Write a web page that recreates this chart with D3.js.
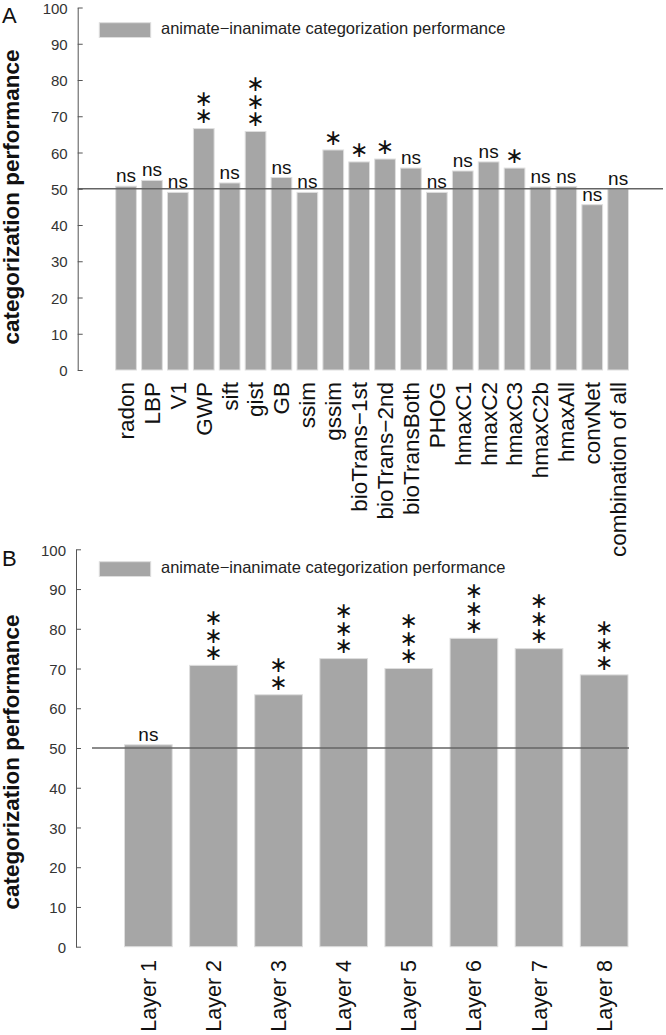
<!DOCTYPE html>
<html>
<head>
<meta charset="utf-8">
<script src="https://cdn.jsdelivr.net/npm/d3@7"></script>
<style>
  body { margin: 0; background: #fff; }
  svg { display: block; font-family: "Liberation Sans", Arial, sans-serif; }
</style>
</head>
<body>
<div id="chart"></div>
<script>
const width = 666;
const height = 1035;

// panel A: low-level feature models
const featureNames = ["radon", "LBP", "V1", "GWP", "sift", "gist", "GB", "ssim", "gssim",
  "bioTrans\u22121st", "bioTrans\u22122nd", "bioTransBoth", "PHOG", "hmaxC1", "hmaxC2",
  "hmaxC3", "hmaxC2b", "hmaxAll", "convNet", "combination of all"];
const featureScores = [50.7, 52.3, 49.0, 66.6, 51.6, 65.8, 53.1, 49.0, 60.7, 57.4,
  58.2, 55.7, 49.0, 54.9, 57.4, 55.7, 50.5, 50.6, 45.6, 50.0];
const featureSig = ["ns", "ns", "ns", "**", "ns", "***", "ns", "ns", "*", "*",
  "*", "ns", "ns", "ns", "ns", "*", "ns", "ns", "ns", "ns"];

// panel B: convNet layers
const layerNames = ["Layer 1", "Layer 2", "Layer 3", "Layer 4", "Layer 5", "Layer 6", "Layer 7", "Layer 8"];
const layerScores = [50.8, 70.8, 63.4, 72.5, 70.0, 77.6, 75.0, 68.4];
const layerSig = ["ns", "***", "**", "***", "***", "***", "***", "***"];

const yTicks = [0, 10, 20, 30, 40, 50, 60, 70, 80, 90, 100];
const chance = 50;
const legendLabel = "animate\u2212inanimate categorization performance";
const yTitle = "categorization performance";

const barFill = "#a6a6a6";
const barEdge = "#dedede";
const starSize = 22;   // font size of the significance stars
const starStep = 17.5; // vertical distance between stacked stars

const svg = d3.select("#chart")
  .append("svg")
    .attr("width", width)
    .attr("height", height);

/* ---------------- layout of each panel ---------------- */
const panelA = {
  letter: "A", top: 7.5, bottom: 370, axisX: 77.7,
  band: [115.7, 628.5], pad: 0.2,
  line: [77.7, 663],
  labelTop: 382, labelSize: 22.5,
  legendY: 22.7, letterY: 23, titleY: 197
};
const panelB = {
  letter: "B", top: 549.3, bottom: 946.7, axisX: 76,
  band: [124.5, 628], pad: 0.267,
  line: [92, 629],
  labelTop: 960, labelSize: 21.5,
  legendY: 561.7, letterY: 566, titleY: 762
};

// measure vertical advance of one star so a column of stars can be tightened
const probe = svg.append("text")
  .style("writing-mode", "vertical-rl")
  .style("text-orientation", "upright")
  .style("font-family", "'DejaVu Sans', sans-serif")
  .style("font-size", starSize + "px")
  .text("\u2217\u2217");
const starAdvance = probe.node().getBBox().height / 2;
probe.remove();

function drawPanel(cfg, names, scores, sig) {
  const g = svg.append("g");

  const x = d3.scaleBand()
    .domain(names)
    .range(cfg.band)
    .paddingInner(cfg.pad)
    .paddingOuter(0);

  const y = d3.scaleLinear()
    .domain([0, 100])
    .range([cfg.bottom, cfg.top]);

  const rows = names.map((n, i) => ({name: n, value: scores[i], sig: sig[i]}));
  const cx = d => x(d.name) + x.bandwidth() / 2;

  // bars
  g.selectAll(".bar")
    .data(rows)
    .join("rect")
      .attr("class", "bar")
      .attr("x", d => x(d.name))
      .attr("y", d => y(d.value))
      .attr("width", x.bandwidth())
      .attr("height", d => y(0) - y(d.value))
      .attr("fill", barFill)
      .attr("stroke", barEdge)
      .attr("stroke-width", 1);

  // chance line
  g.append("line")
    .attr("x1", cfg.line[0])
    .attr("x2", cfg.line[1])
    .attr("y1", y(chance))
    .attr("y2", y(chance))
    .attr("stroke", "#646464")
    .attr("stroke-width", 1.6);

  // y axis, ticks pointing inward
  const axis = g.append("g")
    .attr("transform", `translate(${cfg.axisX},0)`)
    .call(d3.axisLeft(y).tickValues(yTicks).tickSizeInner(-5).tickSizeOuter(0).tickPadding(10));
  axis.select(".domain").attr("stroke", "#555");
  axis.selectAll(".tick line").attr("stroke", "#555");
  axis.selectAll(".tick text")
    .attr("fill", "#333")
    .attr("dy", "0.38em")
    .style("font-size", "15px")
    .style("font-family", "'Liberation Sans', Arial, sans-serif");

  // category labels (rotated)
  g.selectAll(".xlab")
    .data(rows)
    .join("text")
      .attr("class", "xlab")
      .attr("transform", d => `translate(${cx(d)},${cfg.labelTop}) rotate(-90)`)
      .attr("text-anchor", "end")
      .attr("dy", "0.35em")
      .attr("fill", "#111")
      .style("font-size", cfg.labelSize + "px")
      .text(d => d.name);

  // significance: "ns" text
  g.selectAll(".ns")
    .data(rows.filter(d => d.sig === "ns"))
    .join("text")
      .attr("class", "ns")
      .attr("x", cx)
      .attr("y", d => y(d.value) - 4)
      .attr("text-anchor", "middle")
      .attr("fill", "#111")
      .style("font-size", "19px")
      .text("ns");

  // significance: stars in a vertical column, written top to bottom
  g.selectAll(".stars")
    .data(rows.filter(d => d.sig !== "ns"))
    .join("text")
      .attr("class", "stars")
      .attr("x", cx)
      .attr("y", d => y(d.value) - 12 - (d.sig.length - 1) * starStep - 0.6 * starSize)
      .attr("fill", "#111")
      .style("writing-mode", "vertical-rl")
      .style("text-orientation", "upright")
      .style("letter-spacing", (starStep - starAdvance) + "px")
      .style("font-family", "'DejaVu Sans', sans-serif")
      .style("font-size", starSize + "px")
      .text(d => d.sig.replace(/\*/g, "\u2217"));

  // legend
  g.append("rect")
    .attr("x", 99.3)
    .attr("y", cfg.legendY)
    .attr("width", 51.4)
    .attr("height", 14.8)
    .attr("fill", barFill)
    .attr("stroke", barEdge);
  g.append("text")
    .attr("x", 161)
    .attr("y", cfg.legendY + 11)
    .attr("fill", "#222")
    .style("font-size", "16.5px")
    .text(legendLabel);

  // y title
  g.append("text")
    .attr("transform", `translate(19,${cfg.titleY}) rotate(-90)`)
    .attr("text-anchor", "middle")
    .attr("fill", "#111")
    .style("font-size", "22.5px")
    .style("font-weight", "bold")
    .text(yTitle);

  // panel letter
  g.append("text")
    .attr("x", 2)
    .attr("y", cfg.letterY)
    .attr("fill", "#111")
    .style("font-size", "22px")
    .text(cfg.letter);
}

drawPanel(panelA, featureNames, featureScores, featureSig);
drawPanel(panelB, layerNames, layerScores, layerSig);
</script>
</body>
</html>
